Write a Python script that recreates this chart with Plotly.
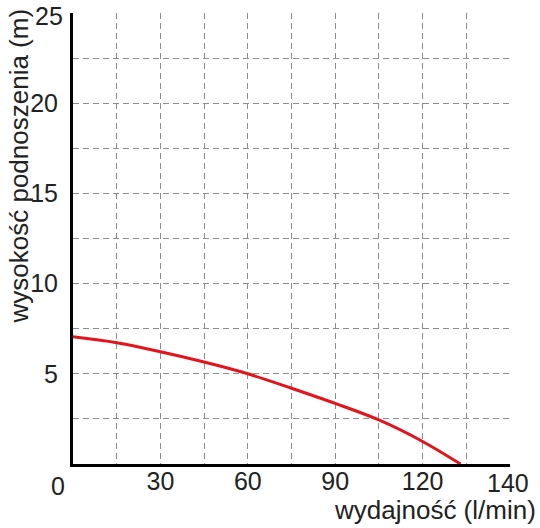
import plotly.graph_objects as go

# data (x in grid units: 15 per cell; rightmost cell edge labelled 140 in the original)
flow = [0, 15, 30, 45, 60, 75, 90, 105, 120, 133]
head = [7.05, 6.72, 6.22, 5.65, 5.0, 4.2, 3.36, 2.44, 1.25, 0]

x_grid = [15, 30, 45, 60, 75, 90, 105, 120, 135]
x_text = ["", "30", "", "60", "", "90", "", "120", ""]
y_grid = [2.5, 5, 7.5, 10, 12.5, 15, 17.5, 20, 22.5]
y_text = ["", "5", "", "10", "", "15", "", "20", ""]

FONT = "Liberation Sans, Arial, sans-serif"
FS = 25

fig = go.Figure()
fig.add_trace(go.Scatter(x=flow, y=head, mode="lines",
                         line=dict(color="#e3141b", width=3, shape="spline", smoothing=1.0),
                         showlegend=False, hoverinfo="skip"))

grid = dict(showgrid=True, gridcolor="#8c8c8c", gridwidth=1, griddash="6px,4px",
            zeroline=False, showline=True, linecolor="black", linewidth=3,
            ticks="", tickfont=dict(family=FONT, size=FS, color="#222"))

fig.update_xaxes(range=[0, 150], tickvals=x_grid, ticktext=x_text, ticklabelstandoff=-7, **grid)
fig.update_yaxes(range=[0, 25], tickvals=y_grid, ticktext=y_text, ticklabelstandoff=7, **grid)

ann_font = dict(family=FONT, size=FS, color="#222")
title_font = dict(family=FONT, size=26, color="#222")
fig.update_layout(
    width=540, height=528,
    margin=dict(l=73, r=30, t=13, b=64),
    plot_bgcolor="white", paper_bgcolor="white",
    annotations=[
        dict(x=0, y=0, xref="x", yref="y", text="0", showarrow=False, font=ann_font,
             xanchor="center", yanchor="middle", xshift=-15, yshift=-22),
        dict(x=150, y=0, xref="x", yref="y", text="140", showarrow=False, font=ann_font,
             xanchor="center", yanchor="middle", xshift=-2, yshift=-19),
        dict(x=0, y=25, xref="x", yref="y", text="25", showarrow=False, font=ann_font,
             xanchor="right", yanchor="middle", xshift=-8, yshift=-3),
        dict(x=1, y=0, xref="paper", yref="paper", text="wydajność (l/min)", showarrow=False,
             font=title_font, xanchor="right", yanchor="middle", xshift=28, yshift=-46),
        dict(x=0, y=0.5, xref="paper", yref="paper", text="wysokość podnoszenia (m)", showarrow=False,
             font=title_font, textangle=-90, xanchor="center", yanchor="middle", xshift=-55, yshift=72),
    ],
)

fig.write_html("out.html")
